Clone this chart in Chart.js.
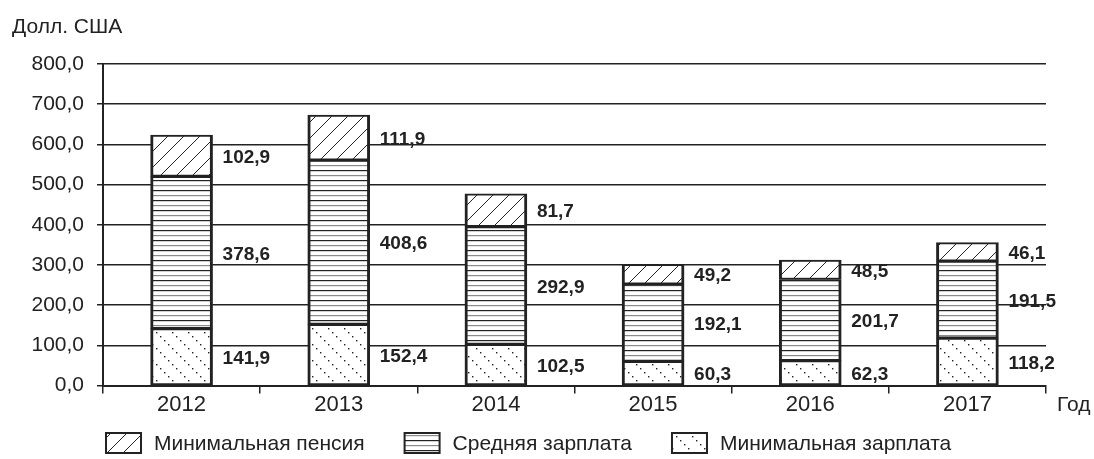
<!DOCTYPE html>
<html lang="ru">
<head>
  <meta charset="UTF-8" />
  <title>Пенсия и зарплата, долл. США</title>
  <style>
    html, body { margin: 0; padding: 0; background: #fff; }
    #wrap { width: 1094px; height: 459px; }
  </style>
</head>
<body>
  <div id="wrap"><canvas id="chart" width="1094" height="459"></canvas></div>

  <script src="https://cdn.jsdelivr.net/npm/chart.js"></script>
  <script>
    const years = ['2012', '2013', '2014', '2015', '2016', '2017'];
    const minWage = [141.9, 152.4, 102.5, 60.3, 62.3, 118.2];
    const avgWage = [378.6, 408.6, 292.9, 192.1, 201.7, 191.5];
    const minPension = [102.9, 111.9, 81.7, 49.2, 48.5, 46.1];
    const seriesNames = ['Минимальная пенсия', 'Средняя зарплата', 'Минимальная зарплата'];

    const FONT = '"Liberation Sans", Arial, sans-serif';
    const INK = '#222';

    // штриховки для столбцов
    function makeTile(w, h, draw) {
      const c = document.createElement('canvas');
      c.width = w; c.height = h;
      const g = c.getContext('2d');
      g.fillStyle = '#fff';
      g.fillRect(0, 0, w, h);
      draw(g);
      return g.createPattern(c, 'repeat');
    }

    const hatchPension = makeTile(16, 16, g => {
      g.strokeStyle = INK;
      g.lineWidth = 1;
      g.beginPath();
      g.moveTo(-2, 18); g.lineTo(18, -2);
      g.moveTo(-2, 2); g.lineTo(2, -2);
      g.moveTo(14, 18); g.lineTo(18, 14);
      g.stroke();
    });

    const hatchAvg = makeTile(8, 10, g => {
      g.fillStyle = INK;
      g.fillRect(0, 0, 8, 1.2);
      g.fillStyle = '#8a8a8a';
      g.fillRect(0, 5, 8, 1.2);
    });

    const hatchMin = makeTile(16, 16, g => {
      g.fillStyle = INK;
      for (let i = 0; i < 16; i += 4) {
        g.fillRect(i, i, 1.4, 1.4);
      }
    });

    // подписи значений справа от сегментов
    const valueLabels = {
      id: 'valueLabels',
      afterDatasetsDraw(chart) {
        const ctx = chart.ctx;
        ctx.save();
        ctx.font = 'bold 19px ' + FONT;
        ctx.fillStyle = INK;
        ctx.textAlign = 'left';
        ctx.textBaseline = 'middle';
        chart.data.datasets.forEach((ds, di) => {
          chart.getDatasetMeta(di).data.forEach((bar, i) => {
            const p = bar.getProps(['x', 'y', 'base', 'width'], true);
            const y = (p.y + p.base) / 2 + 2;
            ctx.fillText(ds.data[i].toFixed(1).replace('.', ','), p.x + p.width / 2 + 10, y);
          });
        });
        ctx.restore();
      }
    };

    // подписи осей и легенда под графиком
    const captions = {
      id: 'captions',
      afterDraw(chart) {
        const ctx = chart.ctx;
        const area = chart.chartArea;
        ctx.save();
        ctx.font = '21px ' + FONT;
        ctx.fillStyle = INK;
        ctx.textBaseline = 'middle';
        ctx.textAlign = 'left';
        ctx.fillText('Долл. США', 12, 27);
        ctx.fillText('Год', area.right + 11, area.bottom + 20);

        // легенда: пенсия, средняя зарплата, минимальная зарплата
        const items = chart.data.datasets.slice().reverse();
        let x = 106;
        const yMid = 443;
        items.forEach(ds => {
          ctx.fillStyle = ds.backgroundColor;
          ctx.fillRect(x, yMid - 10, 35, 20);
          ctx.strokeStyle = INK;
          ctx.lineWidth = 2;
          ctx.strokeRect(x, yMid - 10, 35, 20);
          ctx.fillStyle = INK;
          ctx.fillText(ds.label, x + 48, yMid + 1);
          x += 48 + ctx.measureText(ds.label).width + 40;
        });
        ctx.restore();
      }
    };

    const commonBar = {
      borderColor: INK,
      borderWidth: { top: 2, bottom: 2, left: 3, right: 3 },
      borderSkipped: false,
      barThickness: 62
    };

    new Chart(document.getElementById('chart'), {
      type: 'bar',
      data: {
        labels: years,
        datasets: [
          Object.assign({ label: seriesNames[2], data: minWage, backgroundColor: hatchMin }, commonBar),
          Object.assign({ label: seriesNames[1], data: avgWage, backgroundColor: hatchAvg }, commonBar),
          Object.assign({ label: seriesNames[0], data: minPension, backgroundColor: hatchPension }, commonBar)
        ]
      },
      options: {
        responsive: false,
        animation: false,
        layout: { padding: { top: 64, right: 48, left: 10, bottom: 43 } },
        scales: {
          x: {
            stacked: true,
            grid: { display: true, drawOnChartArea: false, drawTicks: true, tickLength: 8, offset: true, color: INK, lineWidth: 1.5 },
            border: { display: true, color: INK, width: 2 },
            ticks: { color: INK, font: { family: FONT, size: 22 }, padding: -2 }
          },
          y: {
            stacked: true,
            min: 0,
            max: 800,
            afterFit(scale) { scale.width = 93; },
            grid: { color: INK, lineWidth: 1.5, drawTicks: true, tickLength: 6 },
            border: { display: true, color: INK, width: 2 },
            ticks: {
              stepSize: 100,
              color: INK,
              padding: 13,
              font: { family: FONT, size: 21 },
              callback: v => v.toFixed(1).replace('.', ',')
            }
          }
        },
        plugins: {
          tooltip: { enabled: false },
          legend: { display: false }
        }
      },
      plugins: [valueLabels, captions]
    });
  </script>
</body>
</html>
